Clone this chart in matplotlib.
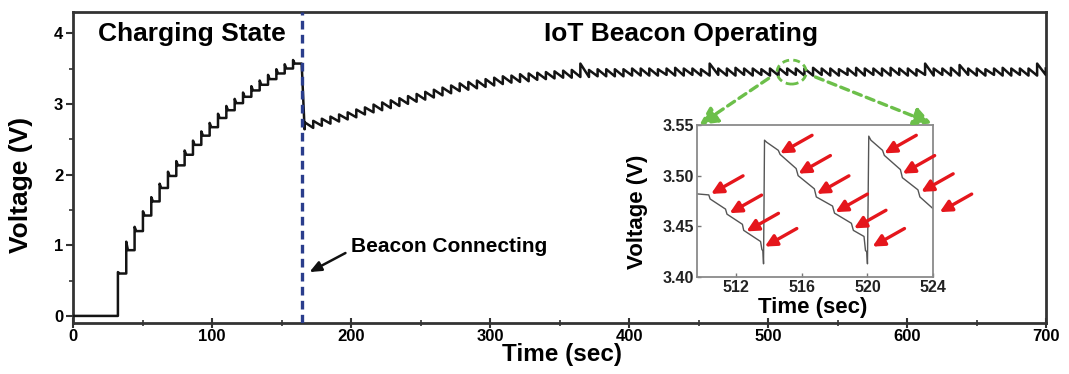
import matplotlib
matplotlib.use("Agg")
import matplotlib.pyplot as plt
from matplotlib.patches import Ellipse, ConnectionPatch
from matplotlib.ticker import MultipleLocator

# charging state: step times (s), level after each step and overshoot peak (V)
charge_t = [32.3, 38.3, 44.3, 50.3, 56.3, 62.3, 68.3, 74.3, 80.3, 86.3, 92.3,
            98.3, 104.3, 110.3, 116.3, 122.3, 128.3, 134.3, 140.3, 146.3, 152.3, 158.3]
charge_base = [0.60, 0.93, 1.20, 1.42, 1.62, 1.81, 1.98, 2.13, 2.28, 2.42, 2.55,
               2.67, 2.80, 2.91, 3.01, 3.10, 3.19, 3.27, 3.35, 3.43, 3.50, 3.57]
charge_peak = [0.62, 1.05, 1.26, 1.48, 1.68, 1.87, 2.04, 2.19, 2.34, 2.48, 2.61,
               2.73, 2.86, 2.97, 3.07, 3.16, 3.25, 3.33, 3.41, 3.49, 3.56, 3.62]
drop_start = 164.5

# beacon operating: time of each recharge tooth, level before and after it
op_t = [166.6, 172.8, 179.0, 185.2, 191.4, 197.6, 203.8, 210.0, 216.2, 222.4,
        228.6, 234.8, 241.0, 247.2, 253.4, 259.6, 265.8, 272.0, 278.2, 284.4,
        290.6, 296.8, 303.0, 309.2, 315.4, 321.6, 327.8, 334.0, 340.2, 346.4,
        352.6, 358.8, 365.0, 371.2, 377.4, 383.6, 389.8, 396.0, 402.2, 408.4,
        414.6, 420.8, 427.0, 433.2, 439.4, 445.6, 451.8, 458.0, 464.2, 470.4,
        476.6, 482.8, 489.0, 495.2, 501.4, 507.6, 513.8, 520.0, 526.2, 532.4,
        538.6, 544.8, 551.0, 557.2, 563.4, 569.6, 575.8, 582.0, 588.2, 594.4,
        600.6, 606.8, 613.0, 619.2, 625.4, 631.6, 637.8, 644.0, 650.2, 656.4,
        662.6, 668.8, 675.0, 681.2, 687.4, 693.6, 699.8]
op_lo = [2.64, 2.66, 2.69, 2.72, 2.75, 2.78, 2.81, 2.85, 2.88, 2.91,
         2.94, 2.97, 3.00, 3.03, 3.06, 3.09, 3.12, 3.15, 3.18, 3.20,
         3.22, 3.24, 3.26, 3.28, 3.30, 3.31, 3.32, 3.34, 3.35, 3.36,
         3.37, 3.37, 3.38, 3.38, 3.39, 3.39, 3.39, 3.39, 3.40, 3.40,
         3.40, 3.40, 3.41, 3.40, 3.40, 3.41, 3.40, 3.40, 3.41, 3.40,
         3.40, 3.41, 3.40, 3.41, 3.40, 3.40, 3.41, 3.41, 3.40, 3.40,
         3.41, 3.40, 3.40, 3.41, 3.40, 3.40, 3.41, 3.40, 3.40, 3.41,
         3.40, 3.40, 3.41, 3.40, 3.41, 3.40, 3.40, 3.41, 3.40, 3.40,
         3.41, 3.40, 3.40, 3.41, 3.40, 3.40, 3.41]
op_hi = [2.74, 2.76, 2.79, 2.82, 2.85, 2.88, 2.92, 2.95, 2.99, 3.02,
         3.05, 3.08, 3.11, 3.14, 3.17, 3.20, 3.23, 3.26, 3.29, 3.31,
         3.33, 3.35, 3.37, 3.39, 3.40, 3.42, 3.43, 3.44, 3.45, 3.46,
         3.47, 3.48, 3.57, 3.48, 3.49, 3.49, 3.49, 3.49, 3.50, 3.50,
         3.50, 3.49, 3.50, 3.51, 3.50, 3.50, 3.49, 3.57, 3.50, 3.50,
         3.51, 3.50, 3.50, 3.49, 3.50, 3.51, 3.50, 3.50, 3.50, 3.51,
         3.50, 3.50, 3.49, 3.50, 3.51, 3.50, 3.50, 3.50, 3.51, 3.50,
         3.50, 3.49, 3.57, 3.50, 3.50, 3.51, 3.55, 3.50, 3.50, 3.49,
         3.50, 3.51, 3.50, 3.50, 3.50, 3.57, 3.50]

# zoomed trace 510-524 s
inset_t = [509.6, 510.32, 510.40, 511.34, 511.43, 512.37, 512.45, 513.48, 513.56,
           513.62, 513.66, 513.72, 513.85, 514.56, 514.67, 515.65, 515.77, 516.76,
           516.88, 517.87, 517.99, 519.02, 519.14, 519.79, 519.88, 519.96, 520.00,
           520.08, 520.21, 520.92, 521.03, 522.01, 522.13, 523.08, 523.20, 524.10]
inset_v = [3.482, 3.481, 3.477, 3.467, 3.462, 3.452, 3.446, 3.435, 3.427,
           3.426, 3.413, 3.535, 3.533, 3.525, 3.521, 3.507, 3.500, 3.487,
           3.479, 3.470, 3.463, 3.453, 3.446, 3.440, 3.426, 3.425, 3.413,
           3.539, 3.535, 3.525, 3.520, 3.506, 3.498, 3.486, 3.479, 3.466]
# red arrows point at the small steps
step_t = [510.46, 511.59, 512.62, 513.74, 514.67, 515.79, 516.92, 518.05,
          519.18, 520.31, 521.03, 522.15, 523.28, 524.41]
step_v = [3.482, 3.463, 3.445, 3.430, 3.522, 3.502, 3.482, 3.464,
          3.448, 3.430, 3.522, 3.502, 3.484, 3.464]

plt.rcParams['font.family'] = ['Liberation Sans', 'DejaVu Sans']
plt.rcParams['font.weight'] = 'bold'

GREEN = '#6cbf4a'
NAVY = '#2a3d8c'


def main_curve():
    t = [0.0, charge_t[0]]
    v = [0.0, 0.0]
    prev = 0.0
    for ti, b, p in zip(charge_t, charge_base, charge_peak):
        t += [ti, ti, ti + 1.2]
        v += [prev, p, b]
        prev = b
    t.append(drop_start)
    v.append(prev)
    for ti, lo, hi in zip(op_t, op_lo, op_hi):
        t += [ti, ti]
        v += [lo, hi]
    return t, v


fig = plt.figure(figsize=(10.69, 3.74), dpi=100)
ax = fig.add_axes([0.0683, 0.1364, 0.9102, 0.8316])

t, v = main_curve()
ax.plot(t, v, color='#141414', lw=1.8, zorder=3)
ax.axvline(165, color=NAVY, lw=2.4, ls=(0, (2.6, 1.6)), zorder=4)

ax.set_xlim(0, 700)
ax.set_ylim(-0.1, 4.3)
ax.xaxis.set_major_locator(MultipleLocator(100))
ax.xaxis.set_minor_locator(MultipleLocator(50))
ax.yaxis.set_major_locator(MultipleLocator(1))
ax.yaxis.set_minor_locator(MultipleLocator(0.5))
ax.tick_params(axis='x', which='major', direction='inout', length=7, width=1.5,
               labelsize=12, pad=1, color='#333')
ax.tick_params(axis='x', which='minor', direction='inout', length=4, width=1.2, color='#333')
ax.tick_params(axis='y', which='major', direction='out', length=5, width=1.5,
               labelsize=12, pad=2, color='#333')
ax.tick_params(axis='y', which='minor', direction='out', length=3, width=1.2, color='#333')
for s in ax.spines.values():
    s.set_linewidth(2)
    s.set_color('#333333')

fig.text(21 / 1069, 1 - 185 / 374, 'Voltage (V)', rotation=90, ha='center',
         va='center', fontsize=19)
fig.text(562 / 1069, 1 - 354 / 374, 'Time (sec)', ha='center', va='center',
         fontsize=17.5)

ax.text(18, 3.99, 'Charging State', fontsize=19, ha='left', va='center')
ax.text(339, 3.99, 'IoT Beacon Operating', fontsize=19, ha='left', va='center')
ax.text(200.3, 0.975, 'Beacon Connecting', fontsize=15, ha='left', va='center')
ax.annotate('', xy=(170.1, 0.62), xytext=(196, 0.89),
            arrowprops=dict(arrowstyle='-|>,head_length=0.7,head_width=0.3',
                            color='#111', lw=1.8, shrinkA=0, shrinkB=0,
                            mutation_scale=10))

ax.add_patch(Ellipse((517, 3.45), 21, 0.34, fill=False, ls=(0, (2.5, 1.5)),
                     ec=GREEN, lw=2, zorder=5))

# inset
axin = fig.add_axes([0.652, 0.2594, 0.2208, 0.4064])
axin.set_facecolor('white')
axin.plot(inset_t, inset_v, color='#555555', lw=1.0)
axin.set_xlim(509.6, 524)
axin.set_ylim(3.40, 3.55)
axin.set_xticks([512, 516, 520, 524])
axin.set_yticks([3.40, 3.45, 3.50, 3.55])
axin.set_yticklabels(['3.40', '3.45', '3.50', '3.55'])
axin.tick_params(direction='in', length=3, width=1, labelsize=11.5, pad=2,
                 color='#777', labelcolor='#222')
for s in axin.spines.values():
    s.set_linewidth(1.3)
    s.set_color('#8a8a8a')

for st, sv in zip(step_t, step_v):
    axin.annotate('', xy=(st, sv), xytext=(23, 13), textcoords='offset points',
                  annotation_clip=False,
                  arrowprops=dict(arrowstyle='-|>,head_length=0.7,head_width=0.35',
                                  color='#e5161c', lw=2.4, shrinkA=0, shrinkB=0,
                                  mutation_scale=10))

fig.text(638 / 1069, 1 - 212 / 374, 'Voltage (V)', rotation=90, ha='center',
         va='center', fontsize=16)
fig.text(813 / 1069, 1 - 307 / 374, 'Time (sec)', ha='center', va='center',
         fontsize=16)

# dashed green arrows from the circled region to the inset corners
for start, corner in [((500.4, 3.36), (0.01, 1.0)), ((534.1, 3.38), (0.995, 1.01))]:
    con = ConnectionPatch(xyA=start, coordsA=ax.transData, xyB=corner,
                          coordsB=axin.transAxes, arrowstyle='-|>,head_length=0.9,head_width=0.45',
                          mutation_scale=12, color=GREEN, lw=2.4,
                          ls=(0, (2.5, 1.6)), shrinkA=0, shrinkB=0, zorder=6)
    fig.add_artist(con)

fig.savefig('out.png', dpi=100)
